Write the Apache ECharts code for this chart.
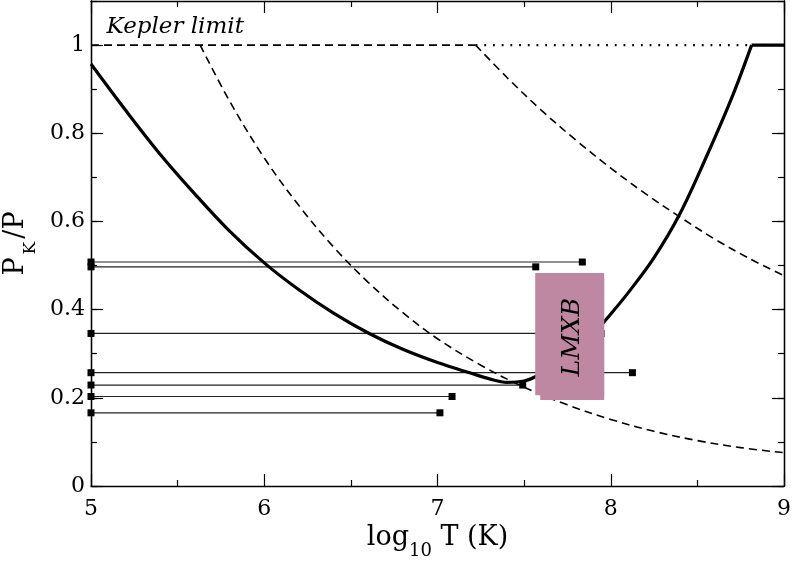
<!DOCTYPE html>
<html>
<head>
<meta charset="utf-8">
<script src="https://cdn.jsdelivr.net/npm/echarts@6/dist/echarts.min.js"></script>
<style>html,body{margin:0;padding:0;background:#fff}#c{width:794px;height:563px}</style>
</head>
<body>
<div id="c"></div>
<script>
// ---- data ----
const solidCurveX = [5.0,5.2,5.4,5.6,5.8,6.0,6.2,6.4,6.6,6.8,7.0,7.2,7.3,7.4,7.5,7.6,7.75,7.9,8.0,8.1,8.25,8.4,8.55,8.7,8.813];
const solidCurveY = [0.957,0.852,0.752,0.662,0.578,0.506,0.445,0.392,0.347,0.310,0.280,0.255,0.243,0.235,0.238,0.255,0.290,0.345,0.390,0.438,0.518,0.618,0.745,0.882,1.0];
const solidFlatX = [8.813, 9.0];
const solidFlatY = [1.0, 1.0];
const keplerDashX = [5.0, 7.22];
const keplerDashY = [1.0, 1.0];
const keplerDotX = [7.22, 9.0];
const keplerDotY = [1.0, 1.0];
const midDashX = [5.63,5.8,6.0,6.2,6.4,6.6,6.8,7.0,7.25,7.5,7.75,8.0,8.25,8.5,8.75,9.0];
const midDashY = [1.0,0.873,0.744,0.636,0.542,0.462,0.393,0.334,0.274,0.224,0.184,0.151,0.124,0.103,0.087,0.0755];
const rightDashX = [7.22,7.4,7.6,7.8,8.0,8.2,8.4,8.6,8.8,9.0];
const rightDashY = [1.0,0.927,0.852,0.784,0.721,0.663,0.610,0.560,0.516,0.477];
const barY    = [0.508,0.497,0.346,0.257,0.229,0.203,0.166];
const barXmin = [5,5,5,5,5,5,5];
const barXmax = [7.836,7.567,7.944,8.125,7.492,7.084,7.014];
const boxRects = [[7.564,7.962,0.206,0.483],[7.593,7.962,0.195,0.470]];
const boxLabel = 'LMXB';
const boxLabelPos = [7.779, 0.338];
const keplerText = 'Kepler limit';
const keplerTextPos = [5.09, 1.042];
const yTickValues = [0, 0.2, 0.4, 0.6, 0.8, 1.0];
const xTitle = '{a|log}{s|10}{a| T (K)}';
const yTitle = '{a|P}{s|K}{a|/P}';

// ---- chart ----
const FONT = '"DejaVu Serif", serif';
const zip = (xs, ys) => xs.map((x, i) => [x, ys[i]]);
const chart = echarts.init(document.getElementById('c'), null, {renderer: 'canvas'});

const axisLineStyle = {show: true, onZero: false, lineStyle: {color: '#000', width: 1.3}};
const tickStyle = {color: '#000', width: 1.2};

function curve(xs, ys, type, width, z, smooth) {
  return {
    type: 'line', data: zip(xs, ys), showSymbol: false, symbol: 'none',
    smooth: smooth ? 0.35 : false, clip: true, z: z,
    lineStyle: {color: '#000', width: width, type: type, cap: 'butt'},
    silent: true
  };
}

const series = [
  curve(solidCurveX, solidCurveY, 'solid', 3.2, 3, true),
  curve(solidFlatX, solidFlatY, 'solid', 3.2, 3, false),
  curve(keplerDashX, keplerDashY, [8, 5], 1.6, 3, false),
  curve(keplerDotX, keplerDotY, [1.8, 6.9], 2.2, 3, false),
  curve(midDashX, midDashY, [8, 5], 1.6, 3, true),
  curve(rightDashX, rightDashY, [8, 5], 1.6, 3, true)
];
barY.forEach((y, i) => {
  series.push({
    type: 'line', data: [[barXmin[i], y], [barXmax[i], y]],
    symbol: 'rect', symbolSize: 7, showSymbol: true, clip: false, z: 2, silent: true,
    lineStyle: {color: '#222', width: 1.2}, itemStyle: {color: '#000'}
  });
});
series.push({
  type: 'custom', z: 5, silent: true, clip: false,
  data: boxRects, encode: {x: [0, 1], y: [2, 3]},
  renderItem: (p, api) => {
    const a = api.coord([api.value(0), api.value(3)]);
    const b = api.coord([api.value(1), api.value(2)]);
    return {type: 'rect', shape: {x: a[0], y: a[1], width: b[0] - a[0], height: b[1] - a[1]},
            style: {fill: '#bf88a2'}};
  }
});
series.push({
  type: 'custom', z: 6, silent: true, clip: false,
  data: [boxLabelPos],
  renderItem: (p, api) => {
    const c = api.coord([api.value(0), api.value(1)]);
    return {type: 'text', x: c[0], y: c[1], rotation: Math.PI / 2,
            style: {text: boxLabel, font: 'italic 25px "DejaVu Serif"', fill: '#000', align: 'center', verticalAlign: 'middle'}};
  }
});
series.push({
  type: 'custom', z: 6, silent: true, clip: false,
  data: [keplerTextPos],
  renderItem: (p, api) => {
    const c = api.coord([api.value(0), api.value(1)]);
    return {type: 'text', x: c[0], y: c[1],
            style: {text: keplerText, font: 'italic 23px "DejaVu Serif"', fill: '#000', align: 'left', verticalAlign: 'middle'}};
  }
});

const xBase = {
  type: 'value', min: 5, max: 9, interval: 1,
  axisLine: axisLineStyle,
  axisTick: {show: true, inside: true, length: 12, lineStyle: tickStyle},
  minorTick: {show: true, splitNumber: 2, length: 6, lineStyle: tickStyle},
  splitLine: {show: false}, minorSplitLine: {show: false}
};
const yMajor = (pos) => ({
  type: 'value', min: 0, max: 1.1, position: pos, offset: 0,
  axisLine: axisLineStyle,
  axisTick: {show: true, inside: true, length: 12, lineStyle: tickStyle, customValues: yTickValues},
  axisLabel: pos === 'left' ? {show: true, customValues: yTickValues, fontFamily: FONT, fontSize: 22, color: '#000', margin: 6,
               padding: [8, 0, 0, 0], formatter: v => String(+v.toFixed(1))} : {show: false},
  splitLine: {show: false}
});
const yMinor = (pos) => ({
  type: 'value', min: 0, max: 1.1, interval: 0.1, position: pos, offset: 0,
  axisLine: axisLineStyle,
  axisTick: {show: true, inside: true, length: 6, lineStyle: tickStyle},
  axisLabel: {show: false}, splitLine: {show: false}
});

const option = {
  animation: false,
  backgroundColor: '#fff',
  grid: {left: 91, right: 10, top: 1, bottom: 77, containLabel: false, outerBoundsMode: 'none'},
  xAxis: [
    Object.assign({}, xBase, {
      position: 'bottom',
      axisLabel: {show: true, fontFamily: FONT, fontSize: 22, color: '#000', margin: 12},
      name: xTitle, nameLocation: 'middle', nameGap: 25,
      nameTextStyle: {rich: {
        a: {fontFamily: FONT, fontSize: 27, color: '#000', lineHeight: 44},
        s: {fontFamily: FONT, fontSize: 18, color: '#000', verticalAlign: 'bottom'}
      }}
    }),
    Object.assign({}, xBase, {position: 'top', axisLabel: {show: false}})
  ],
  yAxis: [
    Object.assign(yMajor('left'), {
      name: yTitle, nameLocation: 'middle', nameGap: 50,
      nameTextStyle: {rich: {
        a: {fontFamily: FONT, fontSize: 27, color: '#000', lineHeight: 46, padding: [0, 1, 0, 1]},
        s: {fontFamily: FONT, fontSize: 17, color: '#000', verticalAlign: 'bottom', padding: [0, 2, 0, 2]}
      }}
    }),
    yMinor('left'),
    yMajor('right'),
    yMinor('right')
  ],
  series: series
};
chart.setOption(option);
</script>
</body>
</html>
